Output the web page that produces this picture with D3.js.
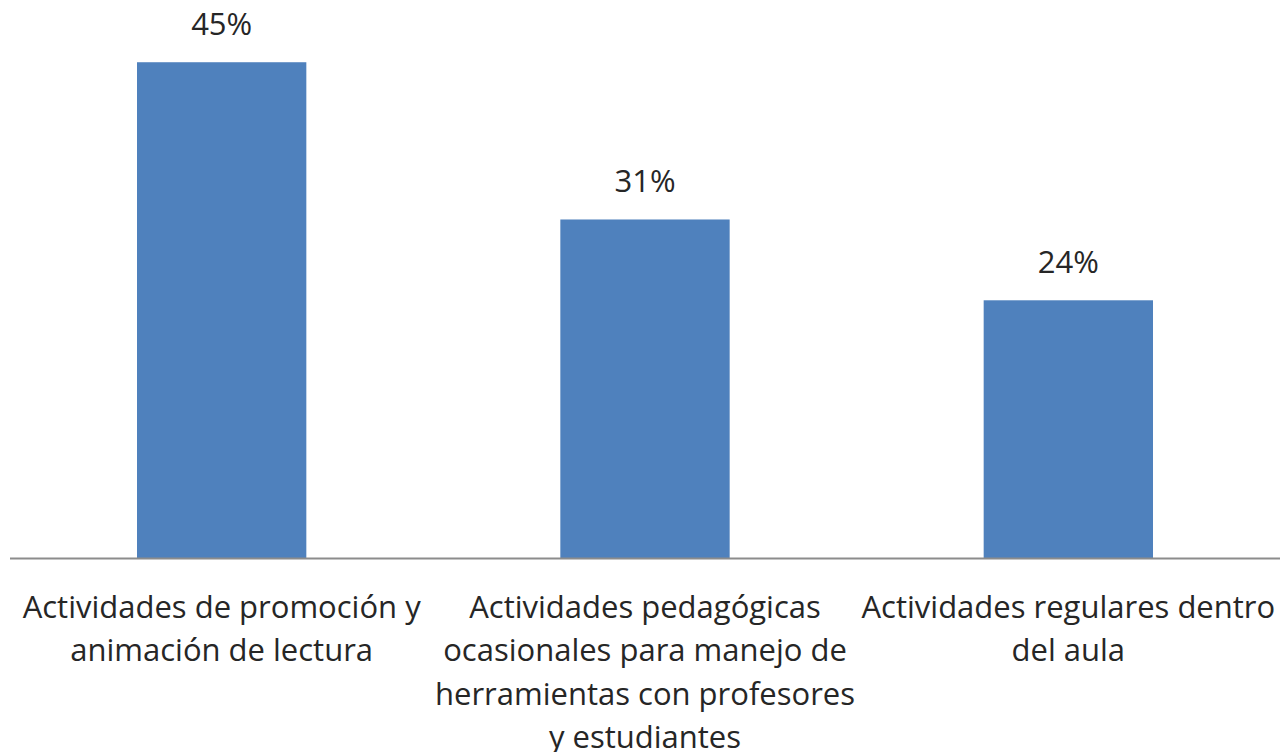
<!DOCTYPE html>
<html>
<head>
<meta charset="utf-8">
<script src="https://cdn.jsdelivr.net/npm/d3@7"></script>
<style>
  body { margin: 0; background: #fff; }
</style>
</head>
<body>
<svg id="chart"></svg>
<script>
const categories = [
  "Actividades de promoción y animación de lectura",
  "Actividades pedagógicas ocasionales para manejo de herramientas con profesores y estudiantes",
  "Actividades regulares dentro del aula"
];
const labelLines = [
  ["Actividades de promoción y", "animación de lectura"],
  ["Actividades pedagógicas", "ocasionales para manejo de", "herramientas con profesores", "y estudiantes"],
  ["Actividades regulares dentro", "del aula"]
];
const values = [0.454, 0.310, 0.236];

const width = 1280, height = 752;
const baseline = 558;

const svg = d3.select("#chart")
    .attr("width", width)
    .attr("height", height)
    .attr("font-family", "'Open Sans', sans-serif");

const x = d3.scaleBand()
    .domain(categories)
    .range([10, 1280])
    .paddingInner(0.6)
    .paddingOuter(0.3);

const y = d3.scaleLinear()
    .domain([0, 0.5])
    .range([baseline, 12]);

svg.append("g")
  .selectAll("rect")
  .data(values)
  .join("rect")
    .attr("x", (d, i) => x(categories[i]))
    .attr("y", d => y(d))
    .attr("width", x.bandwidth())
    .attr("height", d => baseline - y(d))
    .attr("fill", "#4f81bd");

// axis line
svg.append("line")
    .attr("x1", 10).attr("x2", 1280)
    .attr("y1", baseline + 0.5).attr("y2", baseline + 0.5)
    .attr("stroke", "#8c8c8c")
    .attr("stroke-width", 2);

// value labels
svg.append("g")
  .selectAll("text")
  .data(values)
  .join("text")
    .attr("x", (d, i) => x(categories[i]) + x.bandwidth() / 2)
    .attr("y", d => y(d) - 27)
    .attr("text-anchor", "middle")
    .attr("font-size", 31)
    .attr("fill", "#262626")
    .text(d => d3.format(".0%")(d));

// category labels
const cat = svg.append("g")
  .selectAll("text")
  .data(labelLines)
  .join("text")
    .attr("x", (d, i) => x(categories[i]) + x.bandwidth() / 2)
    .attr("y", 618)
    .attr("text-anchor", "middle")
    .attr("font-size", 31)
    .attr("fill", "#262626");

cat.selectAll("tspan")
  .data(d => d)
  .join("tspan")
    .attr("x", function() { return this.parentNode.getAttribute("x"); })
    .attr("dy", (d, i) => i === 0 ? 0 : 43.3)
    .text(d => d);
</script>
</body>
</html>
